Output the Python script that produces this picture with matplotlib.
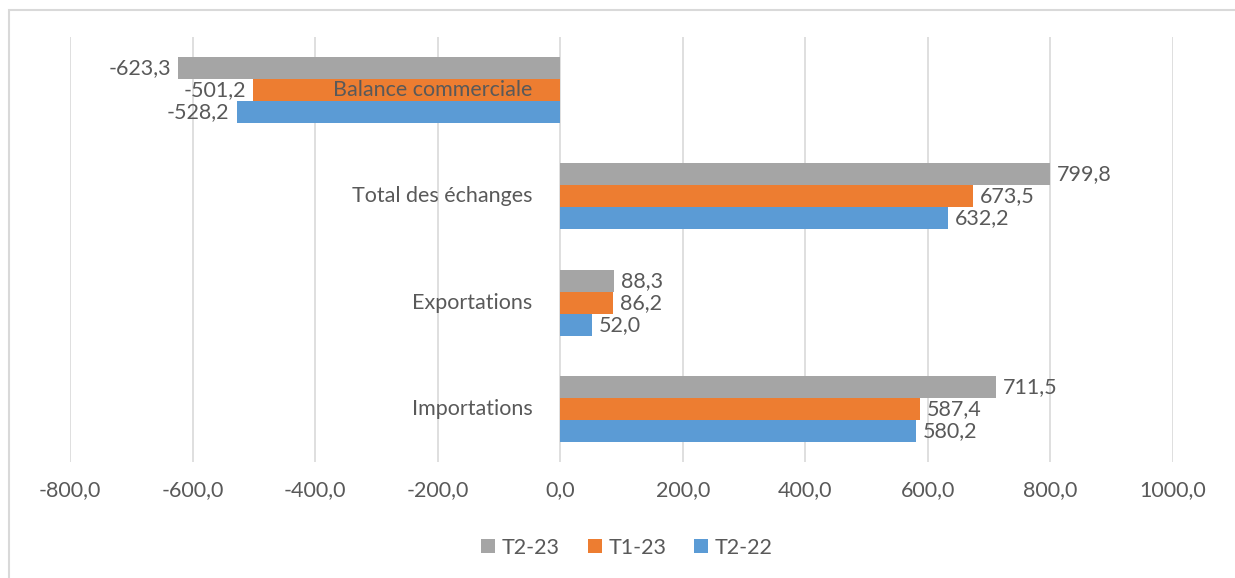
import matplotlib.pyplot as plt
import numpy as np
from matplotlib.patches import Rectangle

categories = ['Importations', 'Exportations', 'Total des échanges', 'Balance commerciale']
t2_23 = [711.5, 88.3, 799.8, -623.3]
t1_23 = [587.4, 86.2, 673.5, -501.2]
t2_22 = [580.2, 52.0, 632.2, -528.2]
ticks = [-800, -600, -400, -200, 0, 200, 400, 600, 800, 1000]

plt.rcParams['font.family'] = ['Lato', 'DejaVu Sans']
txt = '#595959'
fs = 15.5

fig = plt.figure(figsize=(12.35, 5.78), dpi=100)
ax = fig.add_axes([0.0567, 0.2007, 0.893, 0.7353])

y = np.arange(len(categories))
h = 0.207
series = [(t2_23, 'T2-23', '#A5A5A5', h), (t1_23, 'T1-23', '#ED7D31', 0), (t2_22, 'T2-22', '#5B9BD5', -h)]
for vals, name, col, off in series:
    ax.barh(y + off, vals, height=h, color=col, label=name, zorder=3)
    for yi, v in zip(y, vals):
        s = f'{v:.1f}'.replace('.', ',')
        if v >= 0:
            ax.annotate(s, (v, yi + off), xytext=(5, 0), textcoords='offset points',
                        ha='left', va='center', fontsize=fs, color=txt, zorder=4)
        else:
            ax.annotate(s, (v, yi + off), xytext=(-5, 0), textcoords='offset points',
                        ha='right', va='center', fontsize=fs, color=txt, zorder=4)

# category labels sit next to the zero line
for yi, c in zip(y, categories):
    ax.annotate(c, (0, yi), xytext=(-20, 0), textcoords='offset points',
                ha='right', va='center', fontsize=fs, color=txt, zorder=5)

ax.set_xlim(-800, 1000)
ax.set_ylim(-0.5, 3.5)
ax.set_xticks(ticks)
ax.set_xticklabels([f'{t:.1f}'.replace('.', ',') for t in ticks], fontsize=fs, color=txt)
ax.tick_params(axis='x', length=0, pad=13)
ax.set_yticks([])
ax.grid(axis='x', color='#D9D9D9', linewidth=1.2, zorder=0)
for sp in ax.spines.values():
    sp.set_visible(False)

ax.legend(loc='center', bbox_to_anchor=(0.505, -0.202), ncol=3, frameon=False,
          fontsize=fs, labelcolor=txt, handlelength=0.65, handleheight=0.65,
          handletextpad=0.3, columnspacing=1.3)

fig.patches.append(Rectangle((0.0073, -0.05), 1.1, 1.0327, transform=fig.transFigure,
                             fill=False, edgecolor='#D9D9D9', linewidth=1.5))

fig.savefig('out.png', dpi=100)
